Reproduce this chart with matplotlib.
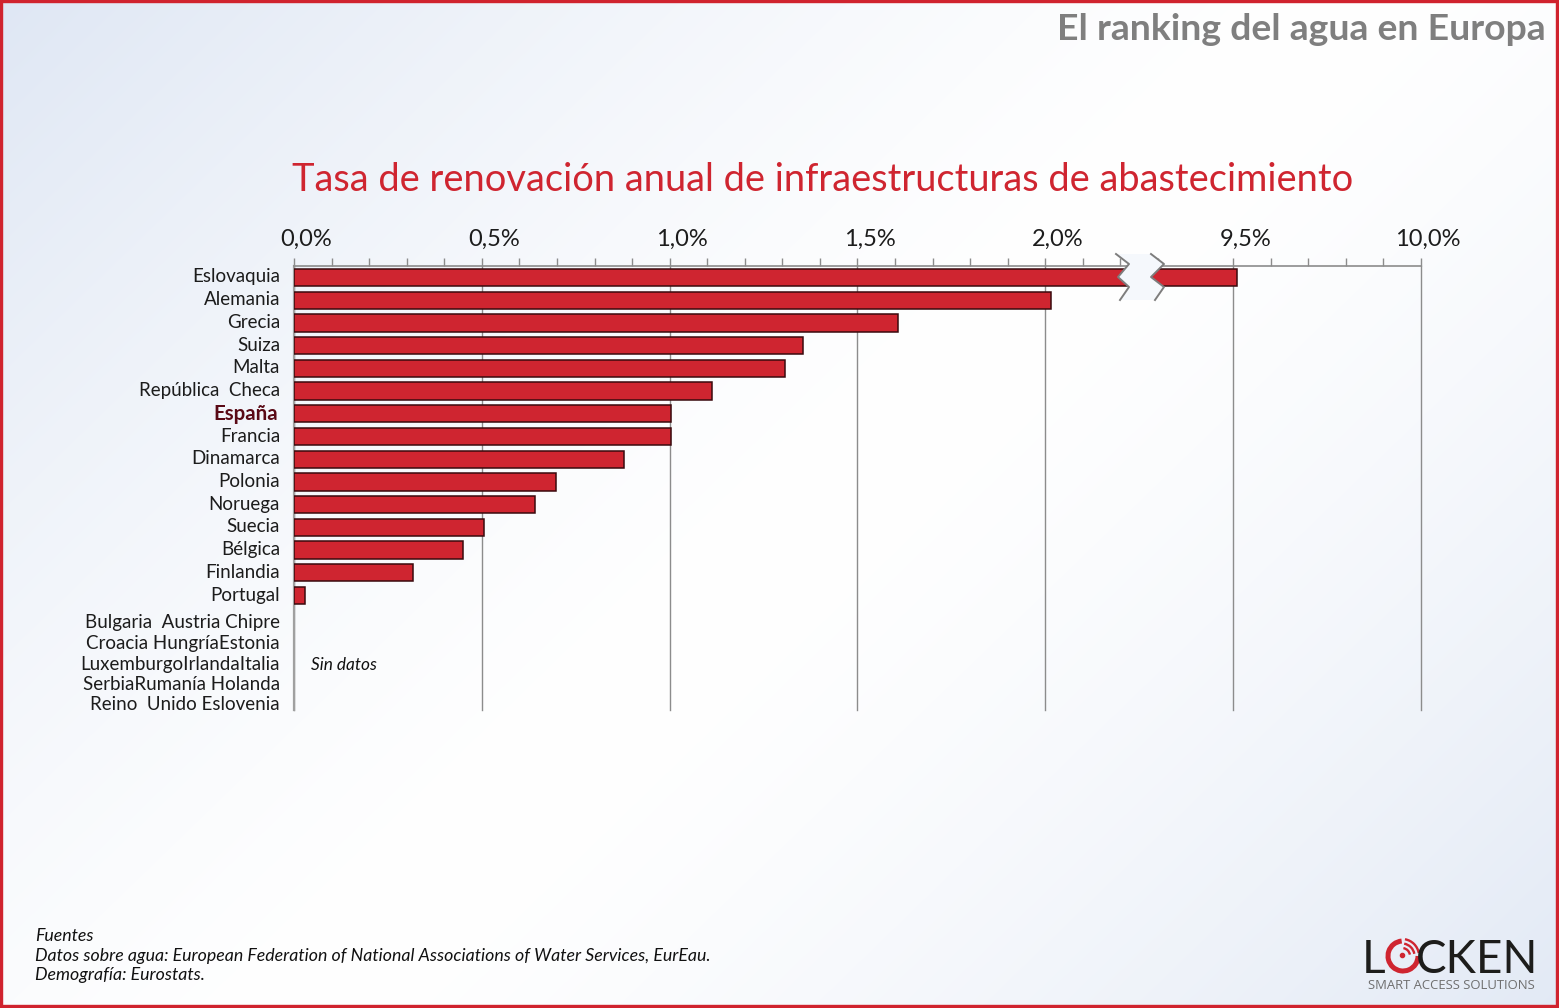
import numpy as np
import matplotlib
matplotlib.use("Agg")
import matplotlib.pyplot as plt
from matplotlib.patches import Polygon, Rectangle, Arc
from matplotlib.lines import Line2D
from matplotlib.transforms import ScaledTranslation

countries = ["Eslovaquia", "Alemania", "Grecia", "Suiza", "Malta", "República  Checa", "España", "Francia",
             "Dinamarca", "Polonia", "Noruega", "Suecia", "Bélgica", "Finlandia", "Portugal"]
rates = [9.51, 2.016, 1.609, 1.356, 1.307, 1.114, 1.003, 1.003, 0.878, 0.697, 0.641, 0.505, 0.449, 0.316, 0.029]
no_data_lines = ["Bulgaria  Austria Chipre", "Croacia HungríaEstonia", "LuxemburgoIrlandaItalia",
                 "SerbiaRumanía Holanda", "Reino  Unido Eslovenia"]
no_data_pos = [15.13, 16.05, 16.97, 17.85, 18.73]
major_ticks = [0, 0.5, 1.0, 1.5, 2.0, 9.5, 10.0]
major_labels = ["0,0%", "0,5%", "1,0%", "1,5%", "2,0%", "9,5%", "10,0%"]
minor_ticks = [0.1, 0.2, 0.3, 0.4, 0.6, 0.7, 0.8, 0.9, 1.1, 1.2, 1.3, 1.4, 1.6, 1.7, 1.8, 1.9,
               2.1, 2.2, 2.3, 9.4, 9.6, 9.7, 9.8, 9.9]

W, H = 1559, 1008
RED = "#cf2530"
GRAY = "#8c8c8c"
plt.rcParams["font.family"] = ["Lato", "DejaVu Sans"]

fig = plt.figure(figsize=(W / 100, H / 100), dpi=100)

def fx(x):
    return x / W

def fy(y):
    return 1 - y / H

def shift(dx, dy):
    return ScaledTranslation(dx / 100, dy / 100, fig.dpi_scale_trans)

# background gradient
bg = fig.add_axes([0, 0, 1, 1], zorder=0)
yy, xx = np.mgrid[0:1:200j, 0:1:300j]
t = np.abs(xx * 0.6 + yy * 0.4 - 0.52) / 0.52
t = np.clip(t, 0, 1) ** 1.4
c0 = np.array([1, 1, 1.0])
c1 = np.array([0.875, 0.906, 0.957])
bg.imshow(c0[None, None, :] * (1 - t[..., None]) + c1[None, None, :] * t[..., None],
          extent=[0, 1, 0, 1], aspect="auto", origin="upper", interpolation="bilinear")
bg.set_axis_off()

# chart axes
ax = fig.add_axes([fx(294), fy(710), fx(1421 - 294), (710 - 266) / H], zorder=2)
ax.patch.set_alpha(0)

def forward(v):
    v = np.asarray(v, dtype=float)
    return np.where(v <= 2.5, v, np.maximum(v - 7.0, 2.5))

def inverse(v):
    v = np.asarray(v, dtype=float)
    return np.where(v <= 2.5, v, v + 7.0)

ax.set_xscale("function", functions=(forward, inverse))
ax.set_xlim(0, 10)
ax.set_ylim(19.04, -0.506)

y = np.arange(len(countries))
ax.barh(y, rates, height=0.76, color=RED, edgecolor="#3a0a0e", linewidth=1.1, zorder=3)

ax.set_xticks(major_ticks)
ax.set_xticklabels(major_labels, fontsize=17, color="#1c1c1c")
ax.set_xticks(minor_ticks, minor=True)
ax.xaxis.set_ticks_position("top")
ax.tick_params(axis="x", which="major", length=6, width=1, color=GRAY, pad=6)
ax.tick_params(axis="x", which="minor", length=6, width=1, color=GRAY)
ax.grid(axis="x", which="major", color=GRAY, linewidth=1, zorder=1, clip_on=False)
ax.set_axisbelow(True)
for tick, lab in zip(ax.xaxis.get_major_ticks(), major_labels):
    tick.gridline.set_clip_on(False)
    dx = 7 if lab == "10,0%" else 12
    tick.label2.set_transform(tick.label2.get_transform() + shift(dx, -1))

ax.set_yticks(list(y) + no_data_pos)
ax.set_yticklabels(countries + no_data_lines, fontsize=13.5, color="#1c1c1c")
ax.tick_params(axis="y", length=0, pad=10)
for i, lab in enumerate(ax.get_yticklabels()):
    if lab.get_text() == "España":
        lab.set_color("#5a0a16")
        lab.set_fontweight("bold")
        lab.set_fontsize(14.8)
        lab.set_transform(lab.get_transform() + shift(-2, 2))
    elif i < len(countries):
        lab.set_transform(lab.get_transform() + shift(0, 2))

for s in ("right", "bottom"):
    ax.spines[s].set_visible(False)
ax.spines["top"].set_color(GRAY)
ax.spines["top"].set_linewidth(1.2)
ax.spines["left"].set_color("#a0a0a0")
ax.spines["left"].set_linewidth(1.6)

ax.text(0.045, 17.04, "Sin datos", style="italic", fontsize=12.4, color="#111111", va="center", ha="left")

# axis break mark
left = [(1116, 254), (1129, 264), (1118, 277), (1129, 287), (1120, 300)]
right = [(1151, 254), (1164, 264), (1151, 277), (1164, 287), (1155, 300)]
to_fig = lambda pts: [(fx(a), fy(b)) for a, b in pts]
fig.add_artist(Polygon(to_fig(left + right[::-1]), closed=True, facecolor="#f5f8fc", edgecolor="none", zorder=5))
for pts in (left, right):
    p = np.array(to_fig(pts))
    fig.add_artist(Line2D(p[:, 0], p[:, 1], color="#7d7d7d", linewidth=1.4, zorder=6))

# titles
fig.text(fx(1546), fy(40), "El ranking del agua en Europa", ha="right", va="baseline",
         fontsize=26.9, fontweight="bold", color="#7f7f7f", zorder=6)
fig.text(fx(823), fy(191), "Tasa de renovación anual de infraestructuras de abastecimiento", ha="center",
         va="baseline", fontsize=27.4, color=RED, zorder=6)

# notes
notes = ["Fuentes",
         "Datos sobre agua: European Federation of National Associations of Water Services, EurEau.",
         "Demografía: Eurostats."]
for line, yp in zip(notes, [941, 961, 980]):
    fig.text(fx(35), fy(yp), line, style="italic", fontsize=12.8, color="#111111", va="baseline", zorder=6)

# logo
fig.text(fx(1362), fy(973), "L", fontsize=33, color="#1d1d1b", va="baseline", ha="left", zorder=6)
fig.text(fx(1538), fy(973), "CKEN", fontsize=33, color="#1d1d1b", va="baseline", ha="right", zorder=6)
logo = fig.add_axes([0, 0, 1, 1], zorder=6)
logo.set_xlim(0, W)
logo.set_ylim(H, 0)
logo.set_axis_off()
logo.patch.set_alpha(0)
logo.add_patch(Arc((1403, 956), 30, 30, theta1=0, theta2=265, color=RED, linewidth=3.6))
for d in (16, 25, 34):
    logo.add_patch(Arc((1402, 956), d, d, theta1=-80, theta2=-10, color=RED, linewidth=1.7))
logo.plot([1402], [955], marker="o", markersize=3, color=RED)
fig.text(fx(1535), fy(989), "SMART ACCESS SOLUTIONS", fontsize=9.45, color="#6f6f6f", va="baseline", ha="right",
         family="Open Sans", zorder=6)

# red frame
fig.add_artist(Rectangle((0, 0), 1, 1, transform=fig.transFigure, fill=False, edgecolor="#d0232e", linewidth=4.6, zorder=10))

fig.savefig("out.png", dpi=100)
